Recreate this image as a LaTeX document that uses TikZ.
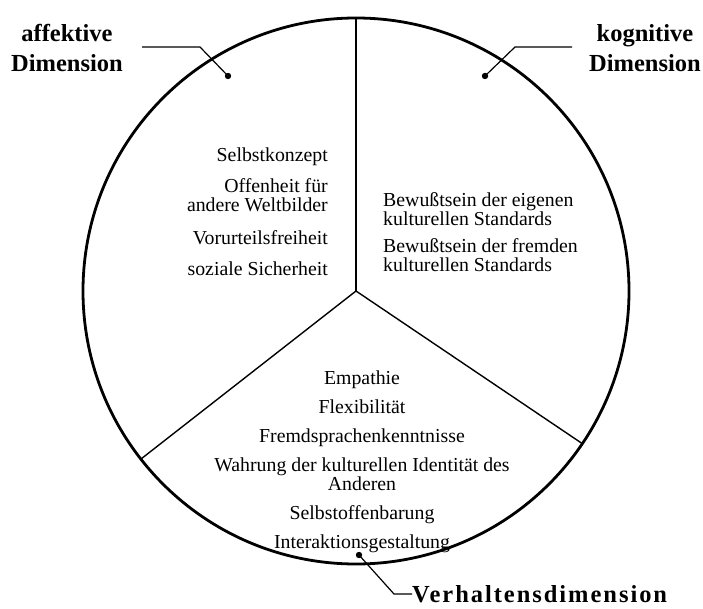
\documentclass[tikz,border=0pt]{standalone}
\usepackage{fontspec}
\setmainfont{Liberation Serif}
\usetikzlibrary{positioning}

\begin{document}
\begin{tikzpicture}[x=1pt, y=-1pt,
  wheel/.style={circle, draw, line width=2.8pt, minimum size=546pt,
                inner sep=0pt, outer sep=0pt},
  divider/.style={line width=1.4pt},
  leader/.style={line width=1.2pt},
  items/.style={inner sep=0pt, font=\fontsize{19.8}{19}\selectfont},
  dimlabel/.style={inner sep=0pt, align=center,
                   font=\fontsize{24.5}{30}\selectfont\bfseries},
]
  \useasboundingbox (0,0) rectangle (703,609);

  % the circle and its three sectors
  \node[wheel] (w) at (356,291) {};
  \draw[divider] (w.center) -- (w.90);
  \draw[divider] (w.center) -- (w.218);
  \draw[divider] (w.center) -- (w.326);

  % sector contents
  \node[items, align=right, anchor=north east] (aff) at (328,148)
    {Selbstkonzept\\[12pt]
     Offenheit für\\andere Weltbilder\\[14pt]
     Vorurteilsfreiheit\\[12pt]
     soziale Sicherheit};
  \node[items, align=left, anchor=north west] (kog) at (383,192)
    {Bewußtsein der eigenen\\kulturellen Standards\\[8pt]
     Bewußtsein der fremden\\kulturellen Standards};
  \node[items, align=center, anchor=north] (verh) at (362,371)
    {Empathie\\[10pt]
     Flexibilität\\[10pt]
     Fremdsprachenkenntnisse\\[10pt]
     Wahrung der kulturellen Identität des\\Anderen\\[10pt]
     Selbstoffenbarung\\[10pt]
     Interaktionsgestaltung};

  % dimension labels with their leaders
  \node[dimlabel, anchor=north] (affl) at (67,24) {affektive\\Dimension};
  \node[dimlabel, anchor=north] (kogl) at (645,24) {kognitive\\Dimension};
  \node[dimlabel, anchor=west, font=\fontsize{24.5}{30}\selectfont\bfseries\addfontfeatures{LetterSpace=8}]
    (verhl) at (412,594) {Verhaltensdimension};

  \coordinate (affdot) at (228,76);
  \coordinate (kogdot) at (485,76);
  \coordinate (verhdot) at (359,555);

  \draw[leader] (affdot) -- (200,47) -- (142,47);
  \draw[leader] (kogdot) -- (515,47) -- (572,47);
  \draw[leader] (verhdot) -- (394,594) -- (verhl.west);
  \foreach \d in {affdot,kogdot,verhdot}
    \fill (\d) circle (3.2pt);
\end{tikzpicture}
\end{document}
